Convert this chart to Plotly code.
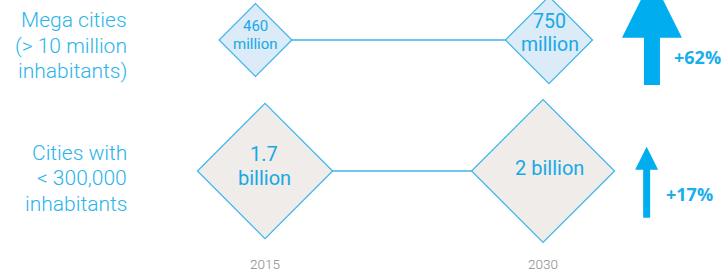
import plotly.graph_objects as go

# ---------------- data ----------------
years = [2015, 2030]
year_labels = ["2015", "2030"]
row_label_lines = [["Mega cities", "(&gt; 10 million", "inhabitants)"],
                   ["Cities with", "&lt; 300,000", "inhabitants"]]
mega_values = [460, 750]                 # million inhabitants
mega_lines = [["460", "million"], ["750", "million"]]
small_values = [1.7, 2.0]                # billion inhabitants
small_lines = [["1.7", "billion"], ["2 billion"]]
growth_labels = ["+62%", "+17%"]

# ---------------- styles ----------------
ROW_TOP, ROW_BOT = 1, 0
BLUE_TEXT = "#29b4ec"
VALUE_TEXT = "#17a9e6"
LINE = "#3db5ea"
ARROW = "#00adef"
FILL_TOP = "#dbebf7"
FILL_BOT = "#efecea"
mega_sizes = [56, 67]
small_sizes = [104, 110]
mega_font = [15, 19.5]
small_font = [20, 20]
mega_yshift = [[13.9, -3.9], [18.5, -4.5]]   # px, per text line
small_yshift = [[16.6, -7.1], [2.7]]
mega_xshift = [0, 1]
small_xshift = [-1, 6.5]
label_y = [0.9565, -0.0534]
LABEL_LEADING = 25.5

# arrow geometry (row units / fraction of width)
arrow_x = [0.898, 0.8907]
arrow_base = [0.6565, -0.3565]
arrow_neck = [1.03, 0.03]
arrow_tip = [1.4756, 0.1855]
arrow_shaft_w = [16, 7]
arrow_head = [60, 23]
pct_x = [0.9614, 0.9504]
pct_y = [0.870, -0.1756]

fig = go.Figure()
annotations = []


def add_row(xaxis, row, sizes, fill, lines, fonts, yshifts, xshifts, values, unit):
    fig.add_trace(go.Scatter(x=years, y=[row] * 2, xaxis=xaxis, yaxis="y",
                             mode="lines", line=dict(color=LINE, width=1.5),
                             hoverinfo="skip"))
    fig.add_trace(go.Scatter(x=years, y=[row] * 2, xaxis=xaxis, yaxis="y",
                             mode="markers",
                             marker=dict(symbol="diamond", size=sizes, color=fill, opacity=1,
                                         line=dict(color=LINE, width=1.2)),
                             customdata=values,
                             hovertemplate="%{customdata} " + unit + "<extra></extra>"))
    for yr, txts, fs, ysh, xsh in zip(years, lines, fonts, yshifts, xshifts):
        for t, s in zip(txts, ysh):
            annotations.append(dict(text=t, xref=xaxis, yref="y", x=yr, y=row,
                                    xshift=xsh, yshift=s, showarrow=False,
                                    xanchor="center", yanchor="middle",
                                    font=dict(size=fs, color=VALUE_TEXT, family="Roboto", weight=400)))


add_row("x2", ROW_TOP, mega_sizes, FILL_TOP, mega_lines, mega_font, mega_yshift, mega_xshift,
        mega_values, "million")
add_row("x", ROW_BOT, small_sizes, FILL_BOT, small_lines, small_font, small_yshift, small_xshift,
        small_values, "billion")

# growth arrows
for i in range(2):
    fig.add_trace(go.Scatter(x=[arrow_x[i], arrow_x[i]], y=[arrow_base[i], arrow_neck[i]],
                             xaxis="x3", yaxis="y", mode="lines",
                             line=dict(color=ARROW, width=arrow_shaft_w[i]), hoverinfo="skip"))
    fig.add_trace(go.Scatter(x=[arrow_x[i]], y=[arrow_tip[i]], xaxis="x3", yaxis="y",
                             mode="markers", cliponaxis=True,
                             marker=dict(symbol="arrow-up", size=arrow_head[i], color=ARROW,
                                         opacity=1, line=dict(width=0)),
                             hoverinfo="skip"))

for lines, yy in zip(row_label_lines, label_y):
    n = len(lines)
    for j, txt in enumerate(lines):
        annotations.append(dict(text=txt, xref="paper", yref="y", x=129 / 726, y=yy,
                                yshift=((n - 1) / 2 - j) * LABEL_LEADING,
                                xanchor="right", yanchor="middle", align="right", showarrow=False,
                                font=dict(size=21, color=BLUE_TEXT, family="Roboto", weight=300)))
for lbl, xx, yy in zip(growth_labels, pct_x, pct_y):
    annotations.append(dict(text=lbl, xref="x3", yref="y", x=xx, y=yy,
                            xanchor="center", yanchor="middle", showarrow=False,
                            font=dict(size=18, color="#1aaeea", family="Open Sans", weight=700)))

fig.update_layout(
    width=726, height=272,
    margin=dict(l=0, r=0, t=0, b=20),
    paper_bgcolor="white", plot_bgcolor="white",
    showlegend=False,
    annotations=annotations,
    xaxis=dict(range=[2000.70, 2039.87], tickvals=years, ticktext=year_labels,
               showgrid=False, zeroline=False, showline=False, ticks="",
               ticklabelstandoff=2,
               tickfont=dict(size=13.5, color="#8a8a8a", family="Roboto", weight=300)),
    xaxis2=dict(range=[2001.94, 2039.05], overlaying="x", anchor="y", visible=False),
    xaxis3=dict(range=[0, 1], overlaying="x", anchor="y", visible=False),
    yaxis=dict(range=[-0.6183, 1.3053], visible=False),
)

fig.write_html("out.html", config={"displayModeBar": False},
               post_script="document.body.style.margin='0px';")
